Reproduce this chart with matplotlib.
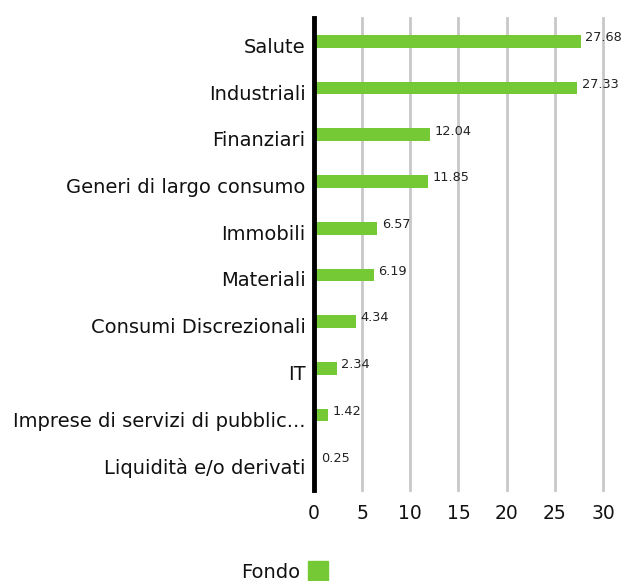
import matplotlib.pyplot as plt
from matplotlib.patches import Rectangle
from matplotlib.transforms import ScaledTranslation

categories = ["Salute", "Industriali", "Finanziari", "Generi di largo consumo",
              "Immobili", "Materiali", "Consumi Discrezionali", "IT",
              "Imprese di servizi di pubblic...", "Liquidità e/o derivati"]
values = [27.68, 27.33, 12.04, 11.85, 6.57, 6.19, 4.34, 2.34, 1.42, 0.25]
xticks = [0, 5, 10, 15, 20, 25, 30]
series_name = "Fondo"
green = "#74c935"

plt.rcParams['font.family'] = ['DejaVu Sans']

fig = plt.figure(figsize=(6.31, 5.81), dpi=100)
ax = fig.add_axes([0.4976, 0.157, 0.458, 0.812])

y = list(range(len(categories)))
ax.barh(y, values, height=0.27, color=green, zorder=3)
for yi, v in zip(y, values):
    ax.text(v + 0.5, yi - 0.08, f"{v:.2f}", fontsize=9.3, va="center", ha="left", color="#222222")

ax.set_xlim(0, 30)
ax.set_ylim(len(categories) - 0.4, -0.5)
ax.set_yticks(y)
ax.set_yticklabels(categories, fontsize=14, color="#111111")
ax.set_xticks(xticks)
ax.set_xticklabels([str(t) for t in xticks], fontsize=13.5, color="#111111")
ax.tick_params(axis="both", length=0, pad=6)
ax.tick_params(axis="x", pad=10)

# labels sit a little below the bar centre in the original
shift = ScaledTranslation(0, -4 / 100, fig.dpi_scale_trans)
for lbl in ax.get_yticklabels():
    lbl.set_transform(lbl.get_transform() + shift)

ax.grid(axis="x", color="#c8c8c8", linewidth=2, zorder=0)
for gl in ax.get_xgridlines():
    gl.set_clip_on(False)
for s in ["top", "right", "bottom"]:
    ax.spines[s].set_visible(False)
ax.spines["left"].set_linewidth(3.5)
ax.spines["left"].set_color("black")
ax.spines["left"].set_zorder(4)

fig.text(300 / 631, 1 - 573 / 581, series_name, fontsize=14, ha="right", va="center", color="#111111")
fig.patches.append(Rectangle((308 / 631, 1 - 582 / 581), 20 / 631, 21 / 581,
                             transform=fig.transFigure, color=green))

fig.savefig("out.png", dpi=100)
